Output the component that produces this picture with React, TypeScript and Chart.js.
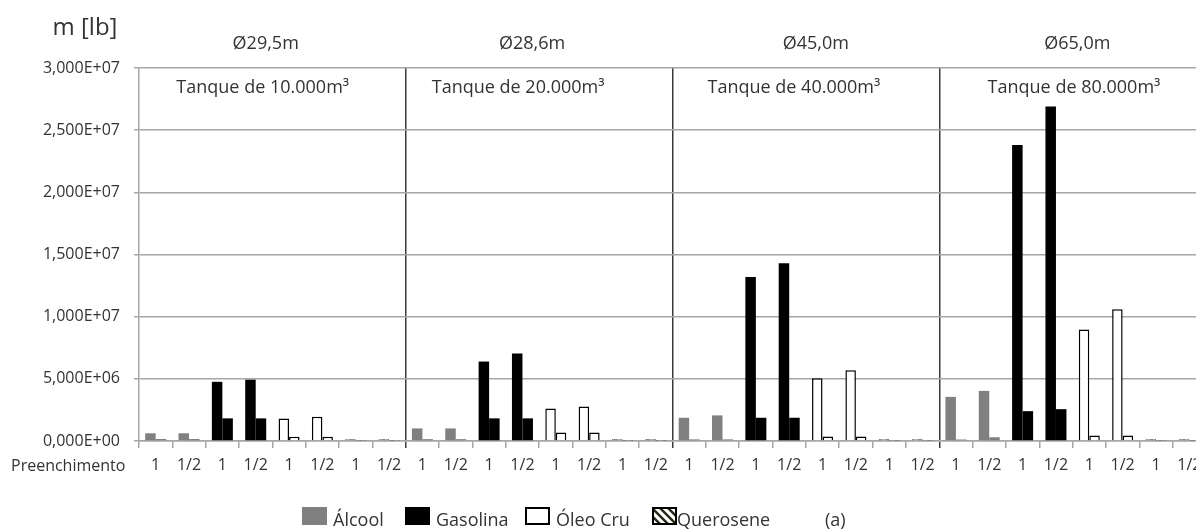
import React, { useEffect, useRef } from "react";
import { Chart, registerables } from "chart.js";

Chart.register(...registerables);

// Tanks, in the order they appear along the x axis
const tankNames = ["Tanque de 10.000m³", "Tanque de 20.000m³", "Tanque de 40.000m³", "Tanque de 80.000m³"];
const tankDiameters = ["Ø29,5m", "Ø28,6m", "Ø45,0m", "Ø65,0m"];
// Products stored in each tank, and fill levels for each product
const products = ["Álcool", "Gasolina", "Óleo Cru", "Querosene"];
const fillLevels = ["1", "1/2"];

// Mass m [lb]; per tank: Álcool 1, 1/2, Gasolina 1, 1/2, Óleo Cru 1, 1/2, Querosene 1, 1/2
const massSeries1 = [
  0.62e6, 0.62e6, 4.76e6, 4.93e6, 1.8e6, 1.96e6, 0.15e6, 0.15e6,
  1.01e6, 1.01e6, 6.39e6, 7.03e6, 2.61e6, 2.77e6, 0.15e6, 0.15e6,
  1.87e6, 2.06e6, 13.2e6, 14.3e6, 5.04e6, 5.69e6, 0.15e6, 0.15e6,
  3.55e6, 4.03e6, 23.8e6, 26.9e6, 8.97e6, 10.6e6, 0.15e6, 0.15e6,
];
const massSeries2 = [
  0.16e6, 0.16e6, 1.82e6, 1.82e6, 0.34e6, 0.34e6, 0.03e6, 0.03e6,
  0.15e6, 0.15e6, 1.82e6, 1.82e6, 0.69e6, 0.69e6, 0.03e6, 0.03e6,
  0.13e6, 0.13e6, 1.87e6, 1.87e6, 0.36e6, 0.36e6, 0.03e6, 0.03e6,
  0.12e6, 0.3e6, 2.4e6, 2.56e6, 0.45e6, 0.45e6, 0.03e6, 0.03e6,
];

const yMax = 3e7;
const yStep = 5e6;

const FONT = "'Open Sans', 'DejaVu Sans', sans-serif";
const TEXT = "#333333";
const GRID = "#a6a6a6";
const SEP = "#3a3a3a";

const categories: string[] = [];
tankNames.forEach(() => products.forEach(() => fillLevels.forEach((f) => categories.push(f))));
const productIndex = categories.map((_, i) => Math.floor(i / fillLevels.length) % products.length);
const perTank = products.length * fillLevels.length;

function sciLabel(v: number): string {
  if (v === 0) return "0,000E+00";
  const e = Math.floor(Math.log10(v) + 1e-9);
  const m = v / Math.pow(10, e);
  return m.toFixed(3).replace(".", ",") + "E+" + String(e).padStart(2, "0");
}

function makeHatch(): CanvasPattern | string {
  const c = document.createElement("canvas");
  c.width = 8;
  c.height = 8;
  const g = c.getContext("2d");
  if (!g) return "#555";
  g.fillStyle = "#ffffff";
  g.fillRect(0, 0, 8, 8);
  g.strokeStyle = "#2b2b1a";
  g.lineWidth = 2.5;
  g.beginPath();
  g.moveTo(-2, -2);
  g.lineTo(10, 10);
  g.moveTo(-6, 2);
  g.lineTo(2, 10);
  g.moveTo(6, -2);
  g.lineTo(14, 6);
  g.stroke();
  return g.createPattern(c, "repeat") || "#555";
}

export default function App() {
  const canvasRef = useRef<HTMLCanvasElement | null>(null);

  useEffect(() => {
    const canvas = canvasRef.current;
    if (!canvas) return;
    const hatch = makeHatch();
    const fills = ["#808080", "#000000", "#ffffff", hatch];
    const borders = ["#808080", "#000000", "#000000", "#000000"];
    const borderWidths = [0, 0, 1.5, 1];

    const bg = productIndex.map((p) => fills[p]);
    const bc = productIndex.map((p) => borders[p]);
    const bw = productIndex.map((p) => borderWidths[p]);

    const annotations = {
      id: "tankAnnotations",
      afterDraw(chart: any) {
        const { ctx } = chart;
        const x = chart.scales.x;
        ctx.save();
        ctx.fillStyle = TEXT;
        ctx.textBaseline = "middle";

        // axis title
        ctx.font = `24px ${FONT}`;
        ctx.textAlign = "center";
        ctx.fillText("m [lb]", 85, 28);

        // tank diameters above and tank names inside the plot, anchored on the category scale
        const diamAt = [3.3, 11.29, 19.8, 27.64];
        const nameAt = [3.21, 10.87, 19.14, 27.54];
        ctx.font = `18px ${FONT}`;
        tankDiameters.forEach((d, i) => ctx.fillText(d, x.getPixelForValue(diamAt[i]), 44));
        tankNames.forEach((n, i) => ctx.fillText(n, x.getPixelForValue(nameAt[i]), 88));

        // x axis row caption
        ctx.font = `16px ${FONT}`;
        ctx.textAlign = "left";
        ctx.fillText("Preenchimento", 11, 466);

        // legend
        const keyX = [302, 405, 525, 652];
        ctx.font = `18px ${FONT}`;
        products.forEach((p, i) => {
          const bx = keyX[i];
          ctx.fillStyle = fills[i] as any;
          ctx.fillRect(bx, 507, 25, 18);
          if (i >= 2) {
            ctx.strokeStyle = "#000";
            ctx.lineWidth = 2;
            ctx.strokeRect(bx + 1, 508, 23, 16);
          }
          ctx.fillStyle = TEXT;
          ctx.fillText(p, bx + (i === 3 ? 25 : 31), 521);
        });
        ctx.fillText("(a)", 825, 521);
        ctx.restore();
      },
    };

    const chart = new Chart(canvas, {
      type: "bar",
      data: {
        labels: categories,
        datasets: [
          { label: "Série 1", data: massSeries1, backgroundColor: bg, borderColor: bc, borderWidth: bw },
          { label: "Série 2", data: massSeries2, backgroundColor: bg, borderColor: bc, borderWidth: bw },
        ],
      },
      options: {
        responsive: false,
        animation: false,
        devicePixelRatio: 1,
        layout: { padding: { top: 68, left: 0, right: 8, bottom: 50 } },
        datasets: { bar: { categoryPercentage: 0.63, barPercentage: 1.0 } },
        plugins: { legend: { display: false }, tooltip: { enabled: false } },
        scales: {
          x: {
            type: "category",
            offset: true,
            grid: {
              offset: true,
              lineWidth: 1.5,
              tickLength: 7,
              tickWidth: 1.5,
              color: (c: any) => (c.index > 0 && c.index % perTank === 0 ? SEP : "rgba(0,0,0,0)"),
              tickColor: (c: any) => (c.index > 0 && c.index % perTank === 0 ? SEP : GRID),
            },
            border: { color: GRID, width: 1.5 },
            ticks: {
              autoSkip: false,
              maxRotation: 0,
              minRotation: 0,
              padding: 8,
              color: TEXT,
              font: { family: FONT, size: 16 },
            },
            afterFit: (s: any) => {
              s.height = 40;
            },
          },
          y: {
            min: 0,
            max: yMax,
            grid: { color: GRID, lineWidth: 1.5, tickLength: 5 },
            border: { color: GRID, width: 1.5 },
            ticks: {
              stepSize: yStep,
              padding: 14,
              color: TEXT,
              font: { family: FONT, size: 16 },
              callback: (v: any) => sciLabel(Number(v)),
            },
            afterFit: (s: any) => {
              s.width = 139;
            },
          },
        },
      },
      plugins: [annotations],
    });
    return () => chart.destroy();
  }, []);

  return (
    <div style={{ position: "fixed", left: 0, top: 0, width: 1196, height: 531, overflow: "hidden", background: "#fff" }}>
      <canvas ref={canvasRef} width={1214} height={531} style={{ display: "block" }} />
    </div>
  );
}
